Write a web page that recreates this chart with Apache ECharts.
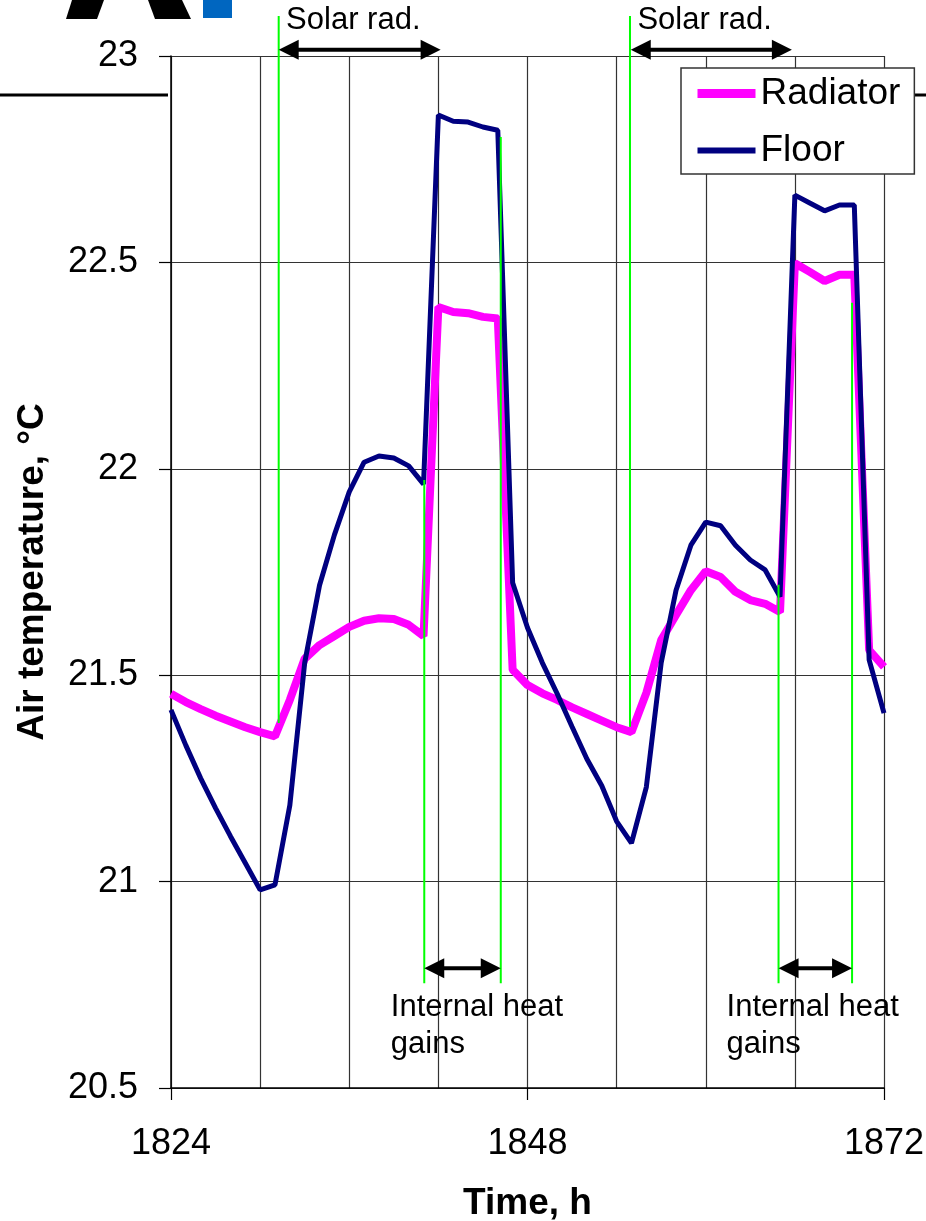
<!DOCTYPE html>
<html>
<head>
<meta charset="utf-8">
<script src="https://cdn.jsdelivr.net/npm/echarts@6/dist/echarts.min.js"></script>
<style>
  html, body { margin: 0; padding: 0; background: #fff; }
  #chart { width: 926px; height: 1221px; }
</style>
</head>
<body>
<div id="chart"></div>
<script>
  var FONT = 'Liberation Sans, Arial, sans-serif'

  // time, h
  var hours = [1824, 1825, 1826, 1827, 1828, 1829, 1830, 1831, 1832, 1833, 1834, 1835, 1836,
    1837, 1838, 1839, 1840, 1841, 1842, 1843, 1844, 1845, 1846, 1847, 1848,
    1849, 1850, 1851, 1852, 1853, 1854, 1855, 1856, 1857, 1858, 1859, 1860,
    1861, 1862, 1863, 1864, 1865, 1866, 1867, 1868, 1869, 1870, 1871, 1872]

  // air temperature, C
  var radiator = [21.455, 21.435, 21.418, 21.402, 21.388, 21.374, 21.362, 21.352, 21.44, 21.54, 21.573, 21.595, 21.617,
    21.632, 21.638, 21.636, 21.622, 21.595, 22.392, 22.38, 22.377, 22.368, 22.364, 21.513, 21.476,
    21.456, 21.44, 21.422, 21.406, 21.39, 21.374, 21.362, 21.457, 21.585, 21.646, 21.706, 21.752,
    21.738, 21.702, 21.682, 21.673, 21.653, 22.498, 22.477, 22.455, 22.47, 22.47, 21.561, 21.52]

  var floor = [21.416, 21.33, 21.25, 21.178, 21.11, 21.045, 20.98, 20.992, 21.185, 21.53, 21.718, 21.84, 21.944,
    22.016, 22.031, 22.026, 22.007, 21.963, 22.857, 22.842, 22.84, 22.828, 22.82, 21.724, 21.615,
    21.53, 21.455, 21.375, 21.297, 21.232, 21.146, 21.093, 21.229, 21.53, 21.706, 21.815, 21.871,
    21.862, 21.815, 21.779, 21.755, 21.69, 22.663, 22.644, 22.625, 22.639, 22.639, 21.537, 21.408]

  // annotations (data units): [x, yTop, yBottom]
  var greenLines = [[1831.25, 23.097, 21.384], [1841.05, 21.973, 20.754], [1846.2, 22.804, 20.754],
    [1854.9, 23.097, 21.375], [1864.9, 21.719, 20.754], [1869.85, 22.402, 20.754]]
  var solarArrows = [[1831.25, 1842.15, 23.015], [1854.95, 1865.8, 23.015]]
  var gainArrows = [[1841.05, 1846.2, 20.79], [1864.9, 1869.85, 20.79]]
  var solarLabels = [[1831.75, 23.085], [1855.4, 23.085]]
  var gainLabels = [[1838.8, 20.74], [1861.4, 20.74]]

  function pairs (xs, ys) {
    return xs.map(function (x, i) { return [x, ys[i]] })
  }

  var chart = echarts.init(document.getElementById('chart'))

  var option = {
    animation: false,
    backgroundColor: '#fff',
    textStyle: { fontFamily: FONT },
    grid: { left: 171, right: 42, top: 56, bottom: 133, outerBoundsMode: 'none' },
    legend: {
      orient: 'vertical',
      left: 681,
      top: 68,
      padding: [7, 14, 5, 12],
      itemGap: 20,
      itemWidth: 58,
      itemHeight: 10,
      backgroundColor: '#fff',
      borderColor: '#333',
      borderWidth: 1.5,
      itemStyle: { opacity: 0 },
      textStyle: { fontSize: 37, color: '#000', fontFamily: FONT, padding: [4, 0, 0, 0] },
      data: [
        { name: 'Radiator', lineStyle: { width: 9, color: '#ff00ff' } },
        { name: 'Floor', lineStyle: { width: 6, color: '#000080' } }
      ]
    },
    xAxis: {
      type: 'value',
      min: 1824,
      max: 1872,
      interval: 24,
      name: 'Time, h',
      nameLocation: 'middle',
      nameGap: 97,
      nameTextStyle: { fontSize: 37, fontWeight: 'bold', color: '#000', fontFamily: FONT },
      axisLine: { lineStyle: { color: '#000', width: 1.5 } },
      axisTick: { length: 12, lineStyle: { color: '#000', width: 1.2 } },
      axisLabel: { fontSize: 36, color: '#000', margin: 38, fontFamily: FONT, formatter: function (v) { return String(v) } },
      splitLine: { show: true, lineStyle: { color: '#333', width: 1.2 } },
      minorTick: { show: false, splitNumber: 4 },
      minorSplitLine: { show: true, lineStyle: { color: '#333', width: 1.2 } }
    },
    yAxis: {
      type: 'value',
      min: 20.5,
      max: 23,
      interval: 0.5,
      name: 'Air temperature, °C',
      nameLocation: 'middle',
      nameGap: 120,
      nameTextStyle: { fontSize: 37, fontWeight: 'bold', color: '#000', fontFamily: FONT },
      axisLine: { show: true, lineStyle: { color: '#000', width: 1.5 } },
      axisTick: { show: true, length: 12, lineStyle: { color: '#000', width: 1.2 } },
      axisLabel: { fontSize: 36, color: '#000', margin: 33, fontFamily: FONT },
      splitLine: { show: true, lineStyle: { color: '#333', width: 1.2 } }
    },
    series: [
      {
        name: 'Radiator',
        type: 'line',
        symbol: 'none',
        data: pairs(hours, radiator),
        lineStyle: { color: '#ff00ff', width: 8 },
        itemStyle: { color: '#ff00ff' },
        z: 3
      },
      {
        name: 'Floor',
        type: 'line',
        symbol: 'none',
        data: pairs(hours, floor),
        lineStyle: { color: '#000080', width: 5 },
        itemStyle: { color: '#000080' },
        z: 4
      }
    ]
  }
  chart.setOption(option)

  function px (x, y) {
    return chart.convertToPixel({ gridIndex: 0 }, [x, y])
  }

  function arrow (x1, x2, y) {
    var a = px(x1, y)
    var b = px(x2, y)
    var yy = a[1]
    var L = 20
    var W = 10
    return [
      { type: 'line', z: 110, shape: { x1: a[0] + L - 2, y1: yy, x2: b[0] - L + 2, y2: yy }, style: { stroke: '#000', lineWidth: 4 } },
      { type: 'polygon', z: 110, shape: { points: [[a[0], yy], [a[0] + L, yy - W], [a[0] + L, yy + W]] }, style: { fill: '#000' } },
      { type: 'polygon', z: 110, shape: { points: [[b[0], yy], [b[0] - L, yy - W], [b[0] - L, yy + W]] }, style: { fill: '#000' } }
    ]
  }

  var elements = []

  // bits of the slide behind the chart
  elements.push({ type: 'polygon', z: 1, shape: { points: [[66, 19], [97, 19], [104, 0], [72, 0]] }, style: { fill: '#000' } })
  elements.push({ type: 'polygon', z: 1, shape: { points: [[155, 19], [191, 19], [182, 0], [148, 0]] }, style: { fill: '#000' } })
  elements.push({ type: 'rect', z: 1, shape: { x: 203, y: 0, width: 29, height: 18 }, style: { fill: '#0066c0' } })
  elements.push({ type: 'line', z: 1, shape: { x1: 0, y1: 95, x2: 168, y2: 95 }, style: { stroke: '#000', lineWidth: 3 } })
  elements.push({ type: 'line', z: 1, shape: { x1: 915, y1: 95, x2: 926, y2: 95 }, style: { stroke: '#000', lineWidth: 3 } })

  greenLines.forEach(function (g) {
    var t = px(g[0], g[1])
    var b = px(g[0], g[2])
    elements.push({ type: 'line', z: 100, shape: { x1: t[0], y1: t[1], x2: b[0], y2: b[1] }, style: { stroke: '#00ff00', lineWidth: 2 } })
  })
  solarArrows.forEach(function (a) { elements = elements.concat(arrow(a[0], a[1], a[2])) })
  gainArrows.forEach(function (a) { elements = elements.concat(arrow(a[0], a[1], a[2])) })

  solarLabels.forEach(function (s) {
    var p = px(s[0], s[1])
    elements.push({ type: 'text', z: 110, x: p[0], y: p[1], style: { text: 'Solar rad.', fontSize: 31, fontFamily: FONT, fill: '#000', align: 'left', verticalAlign: 'middle' } })
  })
  gainLabels.forEach(function (s) {
    var p = px(s[0], s[1])
    elements.push({ type: 'text', z: 110, x: p[0], y: p[1], style: { text: 'Internal heat\ngains', fontSize: 31, lineHeight: 37, fontFamily: FONT, fill: '#000', align: 'left', verticalAlign: 'top' } })
  })

  chart.setOption({ graphic: { elements: elements } })
</script>
</body>
</html>
